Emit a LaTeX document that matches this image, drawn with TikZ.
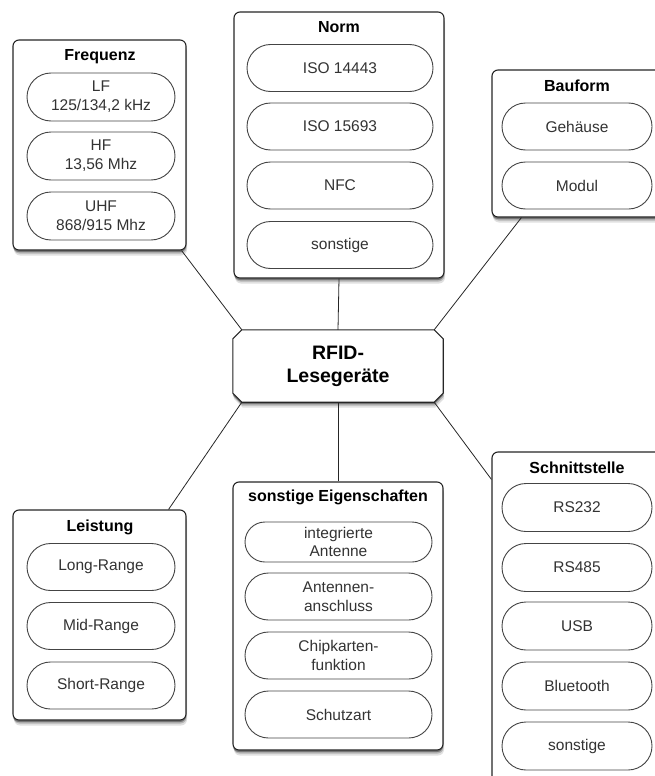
\documentclass[tikz,border=0pt]{standalone}
\usepackage{fontspec}
\setmainfont{Liberation Sans}
\usetikzlibrary{shapes.misc,shadows,backgrounds}
\definecolor{txt}{HTML}{333333}
\definecolor{pillline}{HTML}{444444}
\begin{document}
\begin{tikzpicture}[x=1pt,y=-1pt,
  softshadow/.style={
    general shadow={fill=black,opacity=.12,shadow xshift=1pt,shadow yshift=-5.5pt},
    general shadow={fill=black,opacity=.2,shadow xshift=.5pt,shadow yshift=-3.5pt},
    general shadow={fill=black,opacity=.35,shadow yshift=-2pt}},
  container/.style={draw=black!85, line width=1.1pt, fill=white, rounded corners=6pt,
    inner sep=0pt, softshadow},
  pill/.style={rounded rectangle, draw=pillline, line width=0.9pt, fill=white,
    inner sep=0pt, align=center, text=txt, font=\fontsize{15.5}{18.8}\selectfont},
  boxtitle/.style={font=\bfseries\fontsize{16}{19}\selectfont, inner sep=0pt},
  link/.style={draw=black!85, line width=0.8pt}
]
\useasboundingbox (0,0) rectangle (654,776);

% ---------- central node ----------
\node[inner sep=0pt, minimum width=210pt, minimum height=72pt, align=center,
      font=\bfseries\fontsize{19.5}{23}\selectfont] (rfid) at (338,366) {RFID-\\Lesegeräte};
\begin{scope}[on background layer]
\path[draw=black!85, line width=1.1pt, fill=white, softshadow]
  ([xshift=9pt]rfid.north west) -- ([xshift=-9pt]rfid.north east)
  -- ([yshift=-9pt]rfid.north east) -- ([yshift=9pt]rfid.south east)
  -- ([xshift=-9pt]rfid.south east) -- ([xshift=9pt]rfid.south west)
  -- ([yshift=9pt]rfid.south west) -- ([yshift=-9pt]rfid.north west) -- cycle;
\end{scope}

% ---------- Frequenz ----------
\node[container, minimum width=173pt, minimum height=210pt] (freq) at (99.5,145) {};
\node[boxtitle] (freqT) at (100,57) {Frequenz};
\node[pill, minimum width=148pt, minimum height=48pt] (lf) at (101,97) {LF\\125/134,2 kHz};
\node[pill, minimum width=148pt, minimum height=48pt] (hf) at (101,156) {HF\\13,56 Mhz};
\node[pill, minimum width=148pt, minimum height=48pt] (uhf) at (101,216) {UHF\\868/915 Mhz};

% ---------- Norm ----------
\node[container, minimum width=210pt, minimum height=266pt] (norm) at (339,145) {};
\node[boxtitle] (normT) at (339,27) {Norm};
\node[pill, minimum width=186pt, minimum height=47pt] (iso1) at (340,68) {ISO 14443};
\node[pill, minimum width=186pt, minimum height=47pt] (iso2) at (340,126.5) {ISO 15693};
\node[pill, minimum width=186pt, minimum height=47pt] (nfc) at (340,185.5) {NFC};
\node[pill, minimum width=186pt, minimum height=47pt] (nson) at (340,245) {sonstige};

% ---------- Bauform ----------
\node[container, minimum width=170pt, minimum height=147pt] (bau) at (577,143.5) {};
\node[boxtitle] (bauT) at (577,86) {Bauform};
\node[pill, minimum width=150pt, minimum height=47pt] (geh) at (577,126.5) {Gehäuse};
\node[pill, minimum width=150pt, minimum height=47pt] (mod) at (577,185.5) {Modul};

% ---------- Leistung ----------
\node[container, minimum width=173pt, minimum height=210pt] (leist) at (99.5,615) {};
\node[boxtitle] (leistT) at (100,527) {Leistung};
\node[pill, minimum width=148pt, minimum height=47pt] (long) at (101,567) {Long-Range};
\node[pill, minimum width=148pt, minimum height=47pt] (mid) at (101,626) {Mid-Range};
\node[pill, minimum width=148pt, minimum height=47pt] (short) at (101,685.5) {Short-Range};

% ---------- sonstige Eigenschaften ----------
\node[container, minimum width=210pt, minimum height=268pt] (sonst) at (338,616) {};
\node[boxtitle] (sonstT) at (338,497) {sonstige Eigenschaften};
\node[pill, minimum width=187pt, minimum height=40pt] (ant) at (338.5,542) {integrierte\\Antenne};
\node[pill, minimum width=187pt, minimum height=47pt] (anschl) at (338.5,596.5) {Antennen-\\anschluss};
\node[pill, minimum width=187pt, minimum height=47pt] (chip) at (338.5,655.5) {Chipkarten-\\funktion};
\node[pill, minimum width=187pt, minimum height=47pt] (schutz) at (338.5,714.5) {Schutzart};

% ---------- Schnittstelle ----------
\node[container, minimum width=170pt, minimum height=330pt] (schn) at (577,617) {};
\node[boxtitle] (schnT) at (577,468) {Schnittstelle};
\node[pill, minimum width=150pt, minimum height=48pt] (rs232) at (577,507.5) {RS232};
\node[pill, minimum width=150pt, minimum height=48pt] (rs485) at (577,567.5) {RS485};
\node[pill, minimum width=150pt, minimum height=48pt] (usb) at (577,626) {USB};
\node[pill, minimum width=150pt, minimum height=48pt] (bt) at (577,686) {Bluetooth};
\node[pill, minimum width=150pt, minimum height=48pt] (sson) at (577,746) {sonstige};

% ---------- connectors ----------
\draw[link] ([xshift=-5pt]freq.south east) -- ([xshift=9pt]rfid.north west);
\draw[link] (norm.south) -- (rfid.north);
\draw[link] ([xshift=30pt]bau.south west) -- ([xshift=-9pt]rfid.north east);
\draw[link] ([xshift=9pt]rfid.south west) -- ([xshift=-18pt]leist.north east);
\draw[link] (rfid.south) -- (sonst.north);
\draw[link] ([xshift=-9pt]rfid.south east) -- ([yshift=-28pt]schn.north west);
\end{tikzpicture}
\end{document}
